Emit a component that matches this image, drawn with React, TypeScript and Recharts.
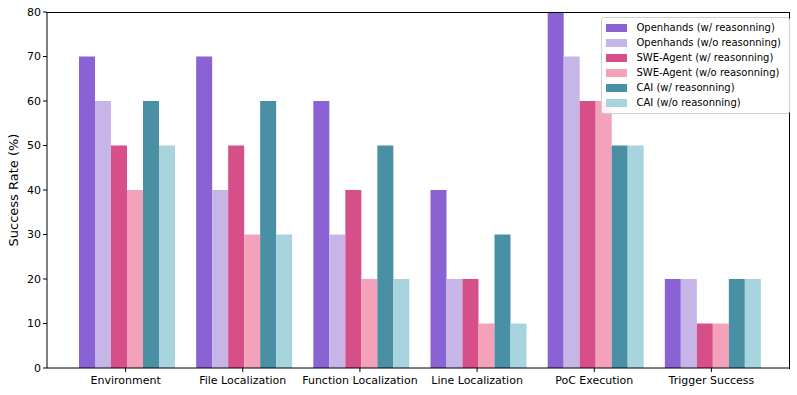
import React from "react";
import { Bar, BarChart, Label, XAxis, YAxis } from "recharts";

const categories = ["Environment", "File Localization", "Function Localization", "Line Localization", "PoC Execution", "Trigger Success"];
const openhandsR = [70, 70, 60, 40, 80, 20];
const openhandsNoR = [60, 40, 30, 20, 70, 20];
const sweR = [50, 50, 40, 20, 60, 10];
const sweNoR = [40, 30, 20, 10, 60, 10];
const caiR = [60, 60, 50, 30, 50, 20];
const caiNoR = [50, 30, 20, 10, 50, 20];
const yTicks = [0, 10, 20, 30, 40, 50, 60, 70, 80];

const series = [
  { key: "ohR", name: "Openhands (w/ reasonning)", color: "#8a62d4" },
  { key: "ohN", name: "Openhands (w/o reasonning)", color: "#c7b5e7" },
  { key: "sweR", name: "SWE-Agent (w/ reasonning)", color: "#d64f88" },
  { key: "sweN", name: "SWE-Agent (w/o reasonning)", color: "#f4a2b9" },
  { key: "caiR", name: "CAI (w/ reasonning)", color: "#4a90a4" },
  { key: "caiN", name: "CAI (w/o reasonning)", color: "#a8d4dd" },
];

const data = categories.map((c, i) => ({
  name: c,
  ohR: openhandsR[i],
  ohN: openhandsNoR[i],
  sweR: sweR[i],
  sweN: sweNoR[i],
  caiR: caiR[i],
  caiN: caiNoR[i],
}));

const font = "'DejaVu Sans', sans-serif";

function LegendBox() {
  return (
    <div style={{ position: "absolute", top: 17, right: 7, border: "1px solid #d0d0d0", borderRadius: 3, background: "rgba(255,255,255,0.85)", padding: "2px 8px 3px 4px", fontFamily: font, fontSize: 10, color: "#000" }}>
      {series.map((s) => (
        <div key={s.key} style={{ display: "flex", alignItems: "center", height: 15 }}>
          <span style={{ display: "inline-block", width: 21, height: 8, background: s.color, marginRight: 9 }} />
          <span>{s.name}</span>
        </div>
      ))}
    </div>
  );
}

export default function App() {
  return (
    <div style={{ position: "absolute", left: 0, top: 0, width: 797, height: 395, background: "#fff" }}>
      <BarChart width={797} height={395} data={data} margin={{ top: 12, right: 7, bottom: 0, left: 0 }} barCategoryGap={12} barGap={0}>
        <XAxis dataKey="name" height={27} padding={{ left: 20, right: 20 }} stroke="#000" tickLine={{ stroke: "#000" }} tickSize={4}
          tick={{ fill: "#000", fontSize: 11, fontFamily: font, dy: 2 }} interval={0} />
        <YAxis domain={[0, 80]} ticks={yTicks} width={47} stroke="#000" tickLine={{ stroke: "#000" }} tickSize={4}
          tick={{ fill: "#000", fontSize: 11, fontFamily: font }} interval={0}>
          <Label content={(p: any) => {
            const vb = p.viewBox || { y: 12, height: 356 };
            const cy = vb.y + vb.height / 2;
            return (
              <text x={18} y={cy} transform={`rotate(-90 18 ${cy})`} textAnchor="middle" fontSize={13} fontFamily={font} fill="#000">
                Success Rate (%)
              </text>
            );
          }} />
        </YAxis>
        {series.map((s) => (
          <Bar key={s.key} dataKey={s.key} name={s.name} fill={s.color} isAnimationActive={false} />
        ))}
      </BarChart>
      <div style={{ position: "absolute", left: 47, top: 12, width: 742, height: 356, borderTop: "1px solid #000", borderRight: "1px solid #000", pointerEvents: "none" }} />
      <LegendBox />
    </div>
  );
}
